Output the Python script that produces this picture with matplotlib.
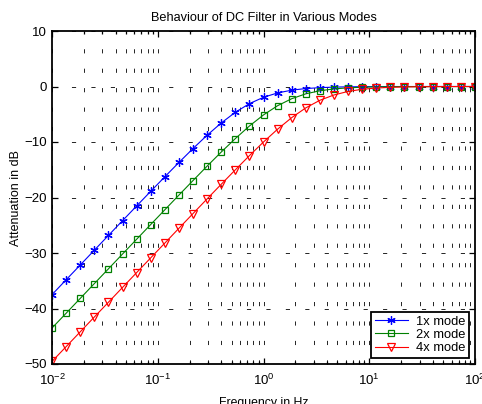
import numpy as np
import matplotlib
matplotlib.use("Agg")
import matplotlib.pyplot as plt
from matplotlib.ticker import LogLocator, NullFormatter, FixedLocator

plt.rcParams['font.family'] = ['Liberation Sans', 'DejaVu Sans']
plt.rcParams['mathtext.default'] = 'regular'
plt.rcParams['lines.scale_dashes'] = False

# frequency exponents (log10 Hz), 31 points from 1e-2 to 1e2
freq_exp = [-2.0, -1.8667, -1.7333, -1.6, -1.4667, -1.3333, -1.2, -1.0667, -0.9333, -0.8,
            -0.6667, -0.5333, -0.4, -0.2667, -0.1333, 0.0, 0.1333, 0.2667, 0.4, 0.5333,
            0.6667, 0.8, 0.9333, 1.0667, 1.2, 1.3333, 1.4667, 1.6, 1.7333, 1.8667, 2.0]

att_1x = [-37.50, -34.83, -32.17, -29.50, -26.84, -24.18, -21.53, -18.89, -16.27, -13.69,
          -11.18, -8.78, -6.58, -4.65, -3.09, -1.94, -1.16, -0.66, -0.37, -0.21,
          -0.11, -0.06, -0.033, -0.018, -0.010, -0.005, -0.003, -0.002, -0.001, -0.0004, -0.0002]

att_2x = [-43.52, -40.86, -38.19, -35.52, -32.86, -30.19, -27.53, -24.87, -22.22, -19.57,
          -16.95, -14.35, -11.82, -9.39, -7.12, -5.12, -3.46, -2.20, -1.32, -0.77,
          -0.43, -0.24, -0.13, -0.07, -0.039, -0.021, -0.011, -0.006, -0.003, -0.002, -0.001]

att_4x = [-49.54, -46.88, -44.21, -41.54, -38.88, -36.21, -33.54, -30.88, -28.22, -25.55,
          -22.90, -20.25, -17.62, -15.02, -12.46, -10.00, -7.69, -5.61, -3.85, -2.48,
          -1.52, -0.89, -0.50, -0.28, -0.15, -0.08, -0.046, -0.025, -0.013, -0.007, -0.004]

labels = ['1x mode', '2x mode', '4x mode']
x_ticks = [1e-2, 1e-1, 1e0, 1e1, 1e2]
x_ticklabels = ['$10^{-2}$', '$10^{-1}$', '$10^{0}$', '$10^{1}$', '$10^{2}$']
y_ticks = [-50, -40, -30, -20, -10, 0, 10]

freq = [10 ** e for e in freq_exp]

fig = plt.figure(figsize=(4.82, 4.04), dpi=100)
ax = fig.add_axes([52 / 482, 1 - 364 / 404, (475 - 52) / 482, (364 - 31) / 404])

ax.plot(freq, att_1x, color=(0, 0, 1), marker=(6, 2, 0), markersize=6, linewidth=0.8,
        markeredgewidth=0.9, label=labels[0])
ax.plot(freq, att_2x, color=(0, 0.5, 0), marker='s', markersize=5, linewidth=0.8,
        markerfacecolor='none', markeredgewidth=0.9, label=labels[1])
ax.plot(freq, att_4x, color=(1, 0, 0), marker='v', markersize=6, linewidth=0.8,
        markerfacecolor='none', markeredgewidth=0.9, label=labels[2])

ax.set_xscale('log')
ax.set_xlim(1e-2, 1e2)
ax.set_ylim(-50, 10)
ax.xaxis.set_major_locator(FixedLocator(x_ticks))
ax.set_xticklabels(x_ticklabels)
ax.xaxis.set_minor_locator(LogLocator(base=10, subs=np.arange(2, 10)))
ax.xaxis.set_minor_formatter(NullFormatter())
ax.set_yticks(y_ticks)

ax.grid(True, which='major', axis='both', color='black', linewidth=0.6, linestyle=(0, (3, 11)))
ax.grid(True, which='minor', axis='x', color='black', linewidth=0.6, linestyle=(0, (3, 11)))

ax.tick_params(which='both', direction='in', top=True, right=True, labelsize=9.5, width=0.9)
ax.tick_params(which='major', length=4)
ax.tick_params(which='minor', length=2)
ax.tick_params(axis='x', which='major', pad=6)
for s in ax.spines.values():
    s.set_linewidth(1.3)
    s.set_color('black')

ax.set_title('Behaviour of DC Filter in Various Modes', fontsize=9.2, pad=7)
ax.set_xlabel('Frequency in Hz', fontsize=8.8, labelpad=7)
ax.set_ylabel('Attenuation in dB', fontsize=9, labelpad=2)

leg = ax.legend(loc='lower right', fontsize=9.3, fancybox=False, framealpha=1,
                edgecolor='black', borderaxespad=0.5, handlelength=2.6, borderpad=0.25,
                labelspacing=0.1, handletextpad=0.6)
leg.get_frame().set_linewidth(1.3)

fig.savefig('out.png', dpi=100)
